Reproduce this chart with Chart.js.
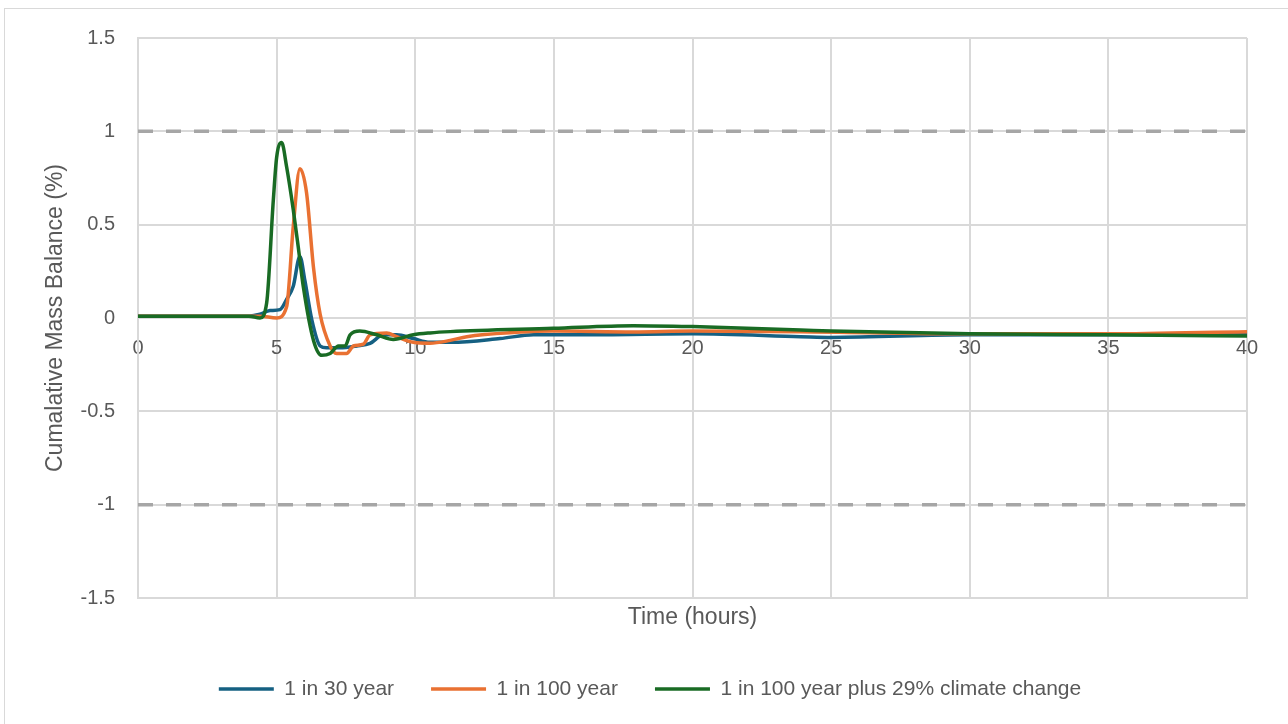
<!DOCTYPE html>
<html>
<head>
<meta charset="utf-8">
<script src="https://cdn.jsdelivr.net/npm/chart.js@4.4.1/dist/chart.umd.min.js"></script>
<style>
  html, body { margin: 0; padding: 0; background: #fff; }
  #wrap { position: relative; width: 1288px; height: 724px; overflow: hidden; }
  #frame { position: absolute; left: 4px; top: 8px; width: 1400px; height: 800px; border: 1px solid #d9d9d9; pointer-events: none; }
  canvas { position: absolute; left: 0; top: 0; }
</style>
</head>
<body>
<div id="wrap">
  <canvas id="chart" width="1288" height="724"></canvas>
  <div id="frame"></div>
</div>
<script>
// values (time in hours, balance in %)
var seriesNames = ['1 in 30 year', '1 in 100 year', '1 in 100 year plus 29% climate change'];
var seriesColors = ['#156082', '#e97132', '#196b24'];

var time30 = [0, 1, 2, 3, 4, 4.4, 4.76, 5.12, 5.36, 5.6, 5.84, 6.02, 6.27, 6.57, 6.8, 7.28, 7.89, 8.37, 8.85, 9.33, 9.93, 10.53, 11.3, 13.06, 14.26, 16.6, 20, 23.9, 25, 30, 35, 40];
var bal30  = [0.01, 0.01, 0.01, 0.01, 0.01, 0.02, 0.04, 0.045, 0.1, 0.17, 0.33, 0.2, -0.01, -0.15, -0.16, -0.16, -0.15, -0.136, -0.09, -0.09, -0.11, -0.13, -0.13, -0.11, -0.09, -0.09, -0.085, -0.1, -0.104, -0.09, -0.09, -0.082];

var time100 = [0, 1, 2, 3, 4, 4.4, 5.0, 5.36, 5.6, 5.84, 6.08, 6.33, 6.57, 6.93, 7.16, 7.52, 7.77, 8.13, 8.37, 8.97, 9.33, 9.93, 10.53, 11.26, 11.86, 13.64, 14.98, 17.87, 20, 23.9, 30, 35, 40];
var bal100  = [0.01, 0.01, 0.01, 0.01, 0.01, 0.01, 0.0, 0.06, 0.49, 0.8, 0.67, 0.27, 0.02, -0.15, -0.19, -0.19, -0.15, -0.14, -0.09, -0.08, -0.1, -0.13, -0.135, -0.12, -0.1, -0.077, -0.07, -0.075, -0.07, -0.073, -0.085, -0.085, -0.073];

var time100cc = [0, 1, 2, 3, 4, 4.4, 4.64, 4.88, 5.0, 5.18, 5.36, 5.6, 5.78, 5.96, 6.33, 6.63, 6.93, 7.23, 7.47, 7.65, 8.0, 8.61, 9.21, 9.93, 10.53, 11.26, 14.98, 17.87, 20, 23.9, 25, 30, 35, 40];
var bal100cc  = [0.01, 0.01, 0.01, 0.01, 0.01, 0.0, 0.08, 0.63, 0.86, 0.94, 0.81, 0.58, 0.38, 0.17, -0.12, -0.2, -0.19, -0.15, -0.15, -0.09, -0.07, -0.09, -0.115, -0.09, -0.08, -0.073, -0.055, -0.041, -0.046, -0.064, -0.07, -0.085, -0.09, -0.096];

// dashed limit lines at +/- 1 %
var limitLevels = [1, -1];
var limitSpan = [0, 40];

var xTicks = { min: 0, max: 40, step: 5 };
var yTicks = { min: -1.5, max: 1.5, step: 0.5 };

var textColor = '#595959';
var gridColor = '#d9d9d9';
var mainFont = "'Liberation Sans', Arial, sans-serif";

function toPoints(xs, ys) {
  return xs.map(function(x, i) { return { x: x, y: ys[i] }; });
}

var seriesData = [toPoints(time30, bal30), toPoints(time100, bal100), toPoints(time100cc, bal100cc)];

var datasets = [];
for (var i = 0; i < seriesNames.length; i++) {
  datasets.push({
    label: seriesNames[i],
    data: seriesData[i],
    borderColor: seriesColors[i],
    backgroundColor: seriesColors[i],
    borderWidth: 3.5,
    pointRadius: 0,
    cubicInterpolationMode: 'monotone',
    order: 3 - i   // green drawn on top, like the reference
  });
}
limitLevels.forEach(function(level) {
  datasets.push({
    label: '',
    data: limitSpan.map(function(x) { return { x: x, y: level }; }),
    borderColor: '#a6a6a6',
    borderWidth: 3.5,
    borderDash: [15, 13],
    pointRadius: 0,
    order: 10
  });
});

Chart.defaults.font.family = mainFont;
Chart.defaults.color = textColor;

new Chart(document.getElementById('chart'), {
  type: 'line',
  data: { datasets: datasets },
  options: {
    responsive: false,
    animation: false,
    layout: { padding: { left: 53, right: 41, top: 38, bottom: 14.5 } },
    plugins: {
      tooltip: { enabled: false },
      legend: {
        position: 'bottom',
        labels: {
          filter: function(item) { return item.text !== ''; },
          sort: function(a, b) { return a.datasetIndex - b.datasetIndex; },
          usePointStyle: true,
          pointStyle: 'line',
          pointStyleWidth: 55,
          padding: 37,
          color: textColor,
          font: { size: 21 }
        }
      }
    },
    scales: {
      x: {
        type: 'linear',
        position: 'bottom',
        min: xTicks.min, max: xTicks.max,
        ticks: { display: false, stepSize: xTicks.step },
        grid: { color: gridColor, lineWidth: 2, drawTicks: false },
        border: { color: gridColor, width: 2 },
        title: { display: true, text: 'Time (hours)', color: textColor, font: { size: 23 }, padding: { top: 0, bottom: 10 } },
        afterFit: function(s) { s.height = 43.5; }
      },
      // second x axis only for the tick numbers that sit on the zero line
      xz: {
        type: 'linear',
        position: { y: 0 },
        min: xTicks.min, max: xTicks.max,
        ticks: { stepSize: xTicks.step, padding: 10, maxRotation: 0, color: textColor, font: { size: 20 } },
        grid: { display: false },
        border: { display: false },
        afterFit: function(s) { s.height = 0; }
      },
      y: {
        min: yTicks.min, max: yTicks.max,
        ticks: {
          stepSize: yTicks.step, padding: 23, color: textColor, font: { size: 20 },
          callback: function(v) { return String(v); }
        },
        grid: { color: gridColor, lineWidth: 2, drawTicks: false },
        border: { color: gridColor, width: 2 },
        title: { display: true, text: 'Cumalative Mass Balance (%)', color: textColor, font: { size: 23 }, padding: { top: -11 } },
        afterFit: function(s) { s.width = 85; }
      }
    }
  }
});
</script>
</body>
</html>
